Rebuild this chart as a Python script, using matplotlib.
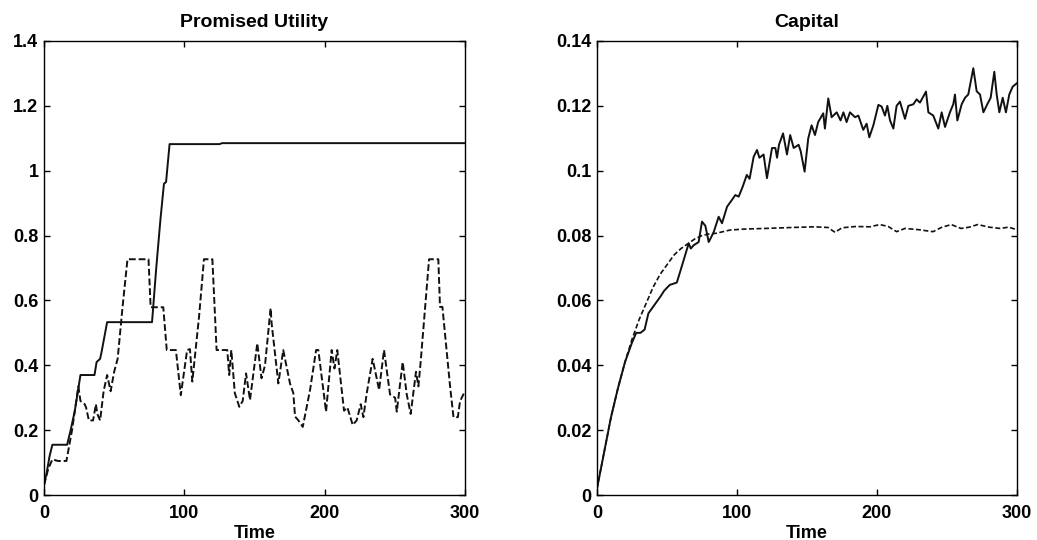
import matplotlib
matplotlib.use("Agg")
import matplotlib.pyplot as plt
import numpy as np

plt.rcParams["font.family"] = ["Liberation Sans", "DejaVu Sans"]
plt.rcParams["font.weight"] = "bold"

LINE_COLOR = "#111111"

# Promised utility, solid series
pu_solid_t = [0, 2, 4, 6, 16.5, 19, 22, 26, 36, 37.5, 40, 41, 45, 77, 80, 83, 85.5, 87,
              89.5, 125, 127, 300]
pu_solid_v = [0.03, 0.07, 0.12, 0.155, 0.155, 0.2, 0.26, 0.37, 0.37, 0.41, 0.42, 0.44, 0.533,
              0.533, 0.7, 0.85, 0.96, 0.965, 1.082, 1.082, 1.085, 1.085]

# Promised utility, dashed series
pu_dash_t = [0, 3, 6, 10, 16, 20, 24.5, 26, 29, 30, 32, 35, 37, 38, 40, 42.5, 45, 47.5, 50,
             52.5, 56, 59.5, 74.5, 76, 85, 87.5, 94, 97.5, 102, 104, 105.7, 110.5, 114, 120,
             123, 130.6, 132, 133.5, 136, 139.2, 141.6, 144, 146.8, 152, 155, 157.5, 161.5,
             162.2, 167, 170.5, 175.3, 177.7, 178.9, 181.3, 184.4, 189.6, 193.9, 195.5, 201,
             205, 207, 209, 213.8, 216.2, 220, 222.8, 225.7, 227.6, 230, 234.2, 238.8, 242.3,
             246.6, 250.2, 251.4, 255.6, 258.5, 261.3, 265.1, 266.8, 268.4, 274.4, 281, 282.2,
             283.9, 289.4, 291.8, 294.9, 296.5, 300]
pu_dash_v = [0.03, 0.08, 0.11, 0.105, 0.105, 0.2, 0.335, 0.29, 0.28, 0.27, 0.23, 0.23, 0.28,
             0.25, 0.23, 0.32, 0.37, 0.32, 0.38, 0.42, 0.58, 0.727, 0.727, 0.579, 0.579, 0.447,
             0.447, 0.308, 0.447, 0.45, 0.35, 0.55, 0.727, 0.727, 0.447, 0.447, 0.37, 0.447,
             0.314, 0.272, 0.29, 0.375, 0.293, 0.468, 0.36, 0.40, 0.576, 0.53, 0.344, 0.447,
             0.344, 0.314, 0.242, 0.23, 0.21, 0.324, 0.447, 0.447, 0.257, 0.447, 0.39, 0.447,
             0.26, 0.27, 0.216, 0.23, 0.28, 0.24, 0.314, 0.42, 0.324, 0.447, 0.31, 0.30, 0.257,
             0.41, 0.31, 0.25, 0.38, 0.335, 0.41, 0.727, 0.727, 0.58, 0.58, 0.334, 0.24, 0.24,
             0.29, 0.32]

# Capital, solid series
cap_solid_t = [0, 5, 10, 15, 20, 25, 28, 31, 34, 36.7, 40, 45, 48, 52, 57, 59.5, 63, 65.5,
               67, 69, 72.6, 75, 77.4, 79.8, 83.3, 86.9, 89.3, 92.9, 96.4, 98.8, 101.2, 104,
               107, 109, 111.9, 114.3, 116, 119, 121.4, 125, 127.4, 128.6, 130, 132.9, 135.7,
               138, 140.5, 144, 145.5, 148.3, 150.9, 153.3, 155.7, 158, 161.6, 162.8, 165.2,
               167.6, 171.2, 174, 176, 178.3, 180.7, 184.3, 186.7, 190.2, 192.6, 194.5, 197.4,
               201, 203.3, 205.7, 207.4, 209.3, 211.7, 214, 216.4, 220, 222.4, 226, 228.3,
               230.7, 232.6, 235, 236.7, 240.2, 243.8, 246.2, 248.6, 252.1, 254.5, 255.7, 257.4,
               260.5, 262.9, 265.2, 268.8, 271.2, 273.6, 276, 278.8, 281.2, 283.8, 285.5, 287.4,
               289.8, 292.1, 294.5, 296.9, 300]
cap_solid_v = [0.002, 0.013, 0.024, 0.033, 0.041, 0.047, 0.05, 0.05, 0.051, 0.056, 0.058,
               0.061, 0.063, 0.0648, 0.0655, 0.069, 0.074, 0.0776, 0.076, 0.077, 0.078, 0.0843,
               0.083, 0.078, 0.081, 0.0858, 0.0838, 0.0889, 0.091, 0.0925, 0.092, 0.095, 0.0987,
               0.0975, 0.1043, 0.1064, 0.104, 0.105, 0.0977, 0.107, 0.107, 0.104, 0.108, 0.1115,
               0.105, 0.111, 0.107, 0.108, 0.106, 0.0997, 0.11, 0.114, 0.111, 0.115, 0.1177,
               0.113, 0.1223, 0.1165, 0.118, 0.1155, 0.118, 0.115, 0.118, 0.1165, 0.117, 0.1126,
               0.1145, 0.1103, 0.114, 0.1203, 0.1198, 0.117, 0.12, 0.1155, 0.113, 0.12, 0.1213,
               0.116, 0.12, 0.1205, 0.122, 0.121, 0.1225, 0.1244, 0.118, 0.117, 0.113, 0.118,
               0.1135, 0.118, 0.1205, 0.1235, 0.1155, 0.1205, 0.1225, 0.1235, 0.1316, 0.1245,
               0.1235, 0.118, 0.1205, 0.1225, 0.1305, 0.1235, 0.118, 0.1225, 0.118, 0.1235,
               0.1259, 0.127]

# Capital, dashed series
cap_dash_t = [0, 5, 10, 15, 20, 25, 30, 35, 40, 45, 50, 55, 60, 65, 70, 75, 80, 85, 90, 95,
              105, 120, 140, 155, 165, 170, 175, 185, 195, 202, 208, 214, 220, 230, 240, 246,
              253, 260, 266, 272, 280, 288, 294, 300]
cap_dash_v = [0.002, 0.013, 0.024, 0.033, 0.041, 0.048, 0.054, 0.059, 0.064, 0.068, 0.071,
              0.074, 0.076, 0.0775, 0.079, 0.08, 0.0805, 0.0807, 0.0812, 0.0817, 0.082, 0.0822,
              0.0825, 0.0827, 0.0825, 0.081, 0.0824, 0.0828, 0.0827, 0.0834, 0.0828, 0.0812,
              0.0822, 0.0818, 0.0812, 0.0825, 0.0834, 0.0822, 0.0826, 0.0834, 0.0826, 0.0822,
              0.0826, 0.0818]

fig = plt.figure(figsize=(10.37, 5.4), dpi=100)
ax1 = fig.add_axes([0.0424, 0.0833, 0.406, 0.8408])
ax2 = fig.add_axes([0.5757, 0.0833, 0.405, 0.8408])

ax1.plot(pu_solid_t, pu_solid_v, color=LINE_COLOR, lw=1.4)
ax1.plot(pu_dash_t, pu_dash_v, color=LINE_COLOR, lw=1.4, ls=(0, (3.5, 1.5)))
ax1.set_xlim(0, 300)
ax1.set_ylim(0, 1.4)
ax1.set_yticks(np.arange(0, 1.41, 0.2))
ax1.set_yticklabels(["0", "0.2", "0.4", "0.6", "0.8", "1", "1.2", "1.4"])
ax1.set_title("Promised Utility", fontsize=14, fontweight="bold", pad=10)

ax2.plot(cap_solid_t, cap_solid_v, color=LINE_COLOR, lw=1.4)
ax2.plot(cap_dash_t, cap_dash_v, color=LINE_COLOR, lw=1.2, ls=(0, (3, 1.5)))
ax2.set_xlim(0, 300)
ax2.set_ylim(0, 0.14)
ax2.set_yticks(np.arange(0, 0.141, 0.02))
ax2.set_yticklabels(["0", "0.02", "0.04", "0.06", "0.08", "0.1", "0.12", "0.14"])
ax2.set_title("Capital", fontsize=14, fontweight="bold", pad=10)

for ax in (ax1, ax2):
    ax.set_xticks([0, 100, 200, 300])
    ax.set_xlabel("Time", fontsize=13, fontweight="bold", labelpad=2)
    ax.tick_params(direction="in", top=True, right=True, length=4, width=1,
                   labelsize=13)
    ax.tick_params(axis="x", pad=7)
    ax.tick_params(axis="y", pad=4)
    for lbl in ax.get_xticklabels() + ax.get_yticklabels():
        lbl.set_fontweight("bold")
    for sp in ax.spines.values():
        sp.set_linewidth(1.0)

plt.savefig("out.png", dpi=100)
plt.close(fig)
